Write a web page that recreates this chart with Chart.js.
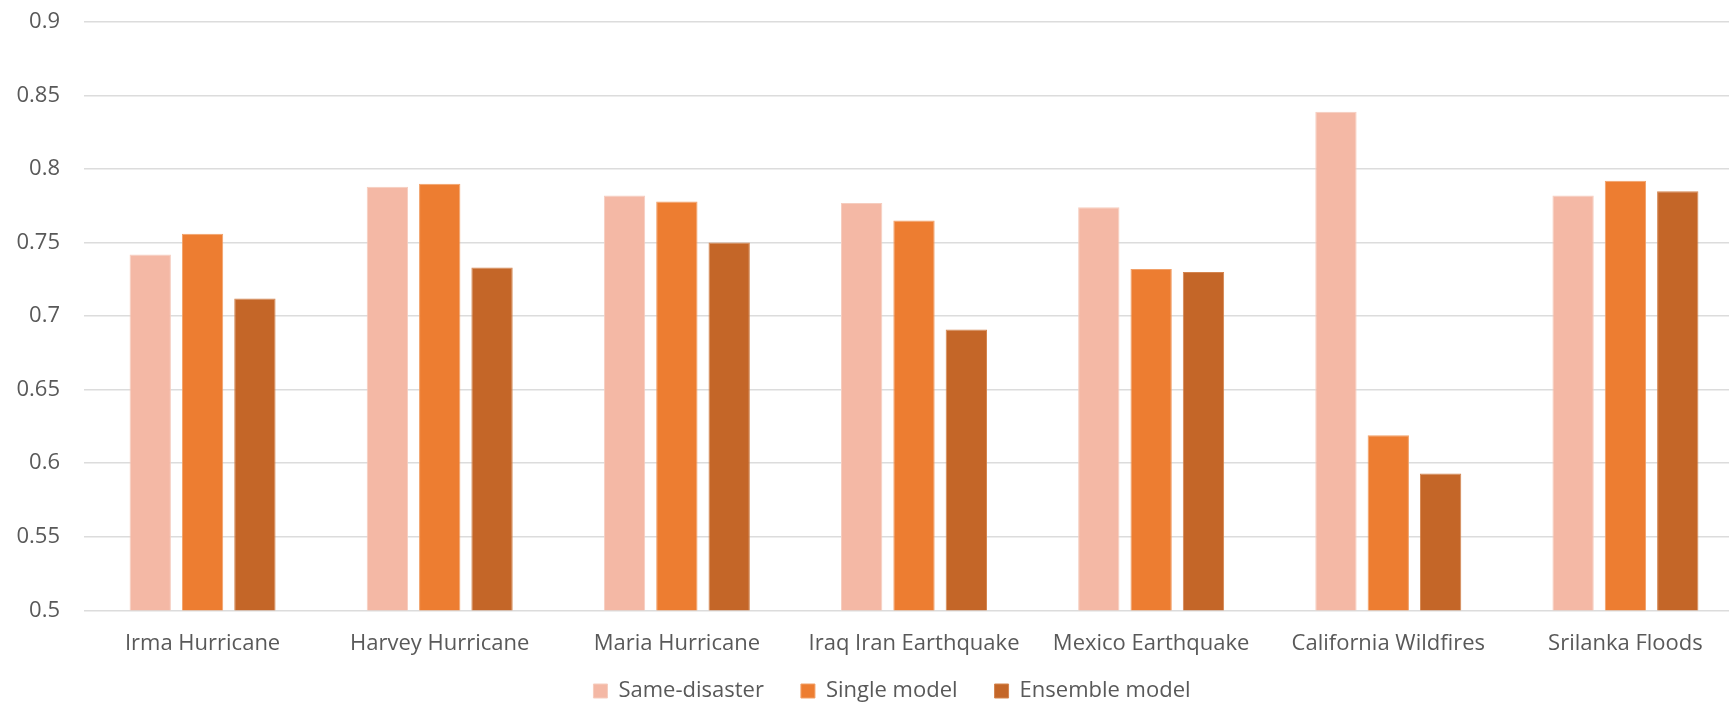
<!DOCTYPE html>
<html>
<head>
<meta charset="utf-8">
<script src="https://cdn.jsdelivr.net/npm/chart.js@4/dist/chart.umd.min.js"></script>
<style>
  html, body { margin: 0; padding: 0; background: #ffffff; overflow: hidden; }
  #wrap { position: absolute; left: 0; top: 0; width: 1760px; height: 726px; }
</style>
</head>
<body>
<div id="wrap"><canvas id="chart"></canvas></div>
<script>
// Disaster events on the x axis
const categories = [
  'Irma Hurricane', 'Harvey Hurricane', 'Maria Hurricane', 'Iraq Iran Earthquake',
  'Mexico Earthquake', 'California Wildfires', 'Srilanka Floods'
];

// Scores per training setup
const sameDisaster  = [0.742, 0.788, 0.782, 0.777, 0.774, 0.839, 0.782];
const singleModel   = [0.756, 0.790, 0.778, 0.765, 0.732, 0.619, 0.792];
const ensembleModel = [0.712, 0.733, 0.750, 0.691, 0.730, 0.593, 0.785];

const seriesNames = ['Same-disaster', 'Single model', 'Ensemble model'];

// Value axis ticks
const yTicks = [0.5, 0.55, 0.6, 0.65, 0.7, 0.75, 0.8, 0.85, 0.9];

const textColor = '#595959';
const fontFamily = '"Open Sans", "Liberation Sans", sans-serif';

const ds = (label, data, fill, edge) => ({
  label, data,
  backgroundColor: fill,
  borderColor: edge,
  borderWidth: 1,
  categoryPercentage: 0.662,
  barPercentage: 0.79
});

// Pull the legend row up closer to the category labels and nudge it right
const legendOffset = {
  id: 'legendOffset',
  afterLayout(chart) {
    const lg = chart.legend;
    if (!lg) return;
    lg.top -= 13.8; lg.bottom -= 13.8;
    lg.left += 13; lg.right += 13;
  }
};

new Chart(document.getElementById('chart'), {
  type: 'bar',
  data: {
    labels: categories,
    datasets: [
      ds(seriesNames[0], sameDisaster,  '#F4B8A5', '#F6CDBF'),
      ds(seriesNames[1], singleModel,   '#ED7D31', '#F1A068'),
      ds(seriesNames[2], ensembleModel, '#C46628', '#D4854F')
    ]
  },
  plugins: [legendOffset],
  options: {
    responsive: true,
    maintainAspectRatio: false,
    animation: false,
    layout: { padding: { left: 14, right: 16, top: 22, bottom: 0.2 } },
    plugins: {
      legend: {
        position: 'bottom',
        labels: {
          boxWidth: 14,
          boxHeight: 14,
          padding: 37,
          color: textColor,
          font: { family: fontFamily, size: 22 }
        }
      },
      tooltip: { enabled: false }
    },
    scales: {
      x: {
        grid: { display: false, drawTicks: false },
        border: { display: false },
        ticks: {
          color: textColor,
          padding: 20,
          maxRotation: 0,
          autoSkip: false,
          font: { family: fontFamily, size: 22 }
        },
        afterFit: s => { s.height = 46.5; }
      },
      y: {
        min: 0.5,
        max: 0.9,
        grid: { color: '#DCDCDC', lineWidth: 1.5, drawTicks: false },
        border: { display: false },
        afterBuildTicks: s => { s.ticks = yTicks.map(v => ({ value: v })); },
        ticks: {
          color: textColor,
          padding: 24,
          font: { family: fontFamily, size: 22 },
          callback: v => String(Number(v.toFixed(2)))
        },
        afterFit: s => { s.width = 70; s.paddingTop = 0; s.paddingBottom = 0; }
      }
    }
  }
});
</script>
</body>
</html>
